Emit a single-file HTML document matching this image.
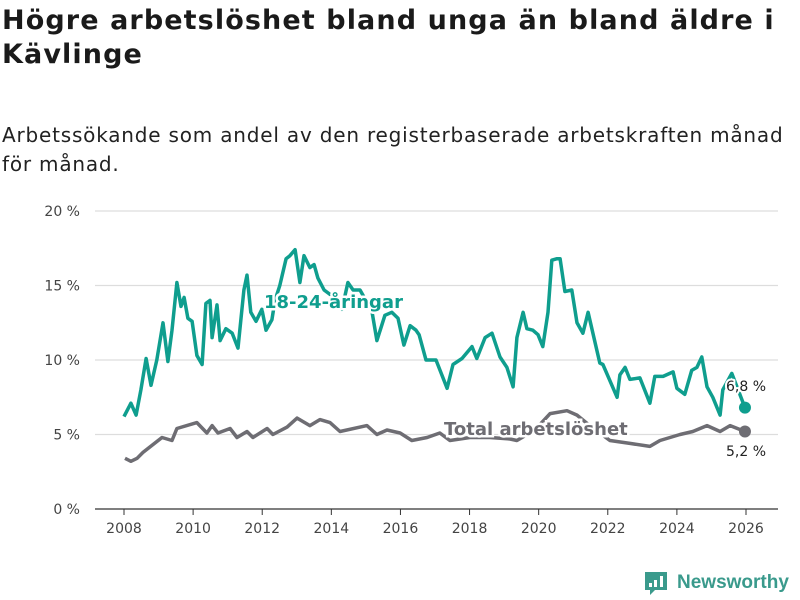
<!DOCTYPE html>
<html><head><meta charset="utf-8">
<style>
body{margin:0;background:#fff;font-family:"DejaVu Sans","Liberation Sans",sans-serif;}
#wrap{position:relative;width:800px;height:600px;overflow:hidden;}
h1{position:absolute;left:2px;top:4px;margin:0;font-size:27px;line-height:34px;font-weight:bold;color:#1a1a1a;width:796px;letter-spacing:1.1px;}
.sub{position:absolute;left:2px;top:121px;margin:0;font-size:20px;line-height:29px;color:#222;width:796px;letter-spacing:0.8px;}
</style></head><body>
<div id="wrap">
<h1>Högre arbetslöshet bland unga än bland äldre i Kävlinge</h1>
<p class="sub">Arbetssökande som andel av den registerbaserade arbetskraften månad för månad.</p>
<svg id="chart" width="800" height="600" style="position:absolute;left:0;top:0"></svg>
</div>
<script>
const yTicks=[0,5,10,15,20];
const xTicks=[2008,2010,2012,2014,2016,2018,2020,2022,2024,2026];
const youthDates=[2008.00,2008.20,2008.35,2008.49,2008.64,2008.78,2008.95,2009.13,2009.27,2009.39,2009.53,2009.65,2009.74,2009.85,2009.97,2010.11,2010.26,2010.37,2010.49,2010.55,2010.69,2010.78,2010.95,2011.13,2011.30,2011.47,2011.56,2011.67,2011.82,2011.99,2012.11,2012.28,2012.37,2012.51,2012.69,2012.80,2012.95,2013.09,2013.21,2013.38,2013.50,2013.61,2013.79,2013.96,2014.31,2014.48,2014.63,2014.83,2015.00,2015.18,2015.32,2015.55,2015.75,2015.93,2016.10,2016.28,2016.45,2016.54,2016.74,2017.03,2017.35,2017.52,2017.78,2018.07,2018.21,2018.45,2018.65,2018.88,2019.08,2019.26,2019.37,2019.55,2019.66,2019.83,2019.98,2020.12,2020.27,2020.38,2020.53,2020.62,2020.76,2020.96,2021.11,2021.28,2021.43,2021.57,2021.77,2021.86,2022.27,2022.35,2022.50,2022.64,2022.93,2023.22,2023.36,2023.60,2023.89,2024.00,2024.23,2024.43,2024.58,2024.72,2024.87,2025.04,2025.25,2025.33,2025.59,2025.97];
const youthValues=[6.2,7.1,6.3,8.0,10.1,8.3,10.0,12.5,9.9,12.0,15.2,13.6,14.2,12.8,12.6,10.3,9.7,13.8,14.0,11.5,13.7,11.3,12.1,11.8,10.8,14.7,15.7,13.2,12.6,13.4,12.0,12.7,14.0,15.0,16.8,17.0,17.4,15.2,17.0,16.2,16.4,15.5,14.7,14.4,13.4,15.2,14.7,14.7,14.0,13.2,11.3,13.0,13.2,12.8,11.0,12.3,12.0,11.7,10.0,10.0,8.1,9.7,10.1,10.9,10.1,11.5,11.8,10.2,9.5,8.2,11.5,13.2,12.1,12.0,11.7,10.9,13.2,16.7,16.8,16.8,14.6,14.7,12.5,11.8,13.2,11.8,9.8,9.7,7.5,9.0,9.5,8.7,8.8,7.1,8.9,8.9,9.2,8.1,7.7,9.3,9.5,10.2,8.2,7.5,6.3,8.0,9.1,6.8];
const totalDates=[2008.03,2008.20,2008.38,2008.55,2009.10,2009.39,2009.53,2010.11,2010.40,2010.55,2010.72,2011.07,2011.27,2011.56,2011.73,2012.14,2012.31,2012.72,2013.01,2013.38,2013.67,2013.96,2014.25,2015.03,2015.32,2015.61,2015.99,2016.33,2016.77,2017.14,2017.43,2018.01,2018.59,2019.17,2019.37,2019.89,2020.33,2020.82,2021.11,2021.48,2022.06,2022.64,2023.22,2023.51,2024.09,2024.46,2024.87,2025.25,2025.54,2025.97];
const totalValues=[3.4,3.2,3.4,3.8,4.8,4.6,5.4,5.8,5.1,5.6,5.1,5.4,4.8,5.2,4.8,5.4,5.0,5.5,6.1,5.6,6.0,5.8,5.2,5.6,5.0,5.3,5.1,4.6,4.8,5.1,4.6,4.8,4.8,4.7,4.6,5.3,6.4,6.6,6.3,5.6,4.6,4.4,4.2,4.6,5.0,5.2,5.6,5.2,5.6,5.2];

const svg=document.getElementById('chart');
const NS='http://www.w3.org/2000/svg';
const X=y=>124+(y-2008)*(746-124)/18;
const Y=v=>509-v*(509-211)/20;
function mk(tag,attrs,txt){const e=document.createElementNS(NS,tag);for(const k in attrs)e.setAttribute(k,attrs[k]);if(txt!==undefined)e.textContent=txt;svg.appendChild(e);return e;}
const font='"DejaVu Sans","Liberation Sans",sans-serif';
yTicks.forEach(t=>{
 const g=mk('line',{x1:95,x2:778,y1:Y(t),y2:Y(t),stroke:t===0?'#333':'#ddd','stroke-width':1.3});
 
 
 const l=mk('text',{x:80,y:Y(t)+5,'text-anchor':'end','font-size':14,fill:'#444','font-family':font},t+' %');
 
 
});
xTicks.forEach(t=>{
 const k=mk('line',{x1:X(t),x2:X(t),y1:509,y2:515,stroke:'#333','stroke-width':1});
 
 
 const l=mk('text',{x:X(t),y:533,'text-anchor':'middle','font-size':14,fill:'#444','font-family':font},t);
 
 
});
function path(d,v){return d.map((x,i)=>(i?'L':'M')+X(x).toFixed(1)+','+Y(v[i]).toFixed(1)).join('');}
const tl=mk('path',{d:path(totalDates,totalValues),fill:'none',stroke:'#6e6d73','stroke-width':3.5,'stroke-linejoin':'round'});


const yl=mk('path',{d:path(youthDates,youthValues),fill:'none',stroke:'#0f9e8e','stroke-width':3.5,'stroke-linejoin':'round'});


const td=mk('circle',{cx:X(totalDates[totalDates.length-1]),cy:Y(totalValues[totalValues.length-1]),r:6,fill:'#6e6d73'});


const yd=mk('circle',{cx:X(youthDates[youthDates.length-1]),cy:Y(youthValues[youthValues.length-1]),r:6,fill:'#0f9e8e'});


const l1=mk('text',{x:264,y:308,'font-size':18,'font-weight':'bold',fill:'#0f9e8e',stroke:'#fff','stroke-width':5,'paint-order':'stroke','font-family':font},'18-24-åringar');


const l2=mk('text',{x:444,y:435,'font-size':18,'font-weight':'bold',fill:'#6e6d73',stroke:'#fff','stroke-width':5,'paint-order':'stroke','font-family':font},'Total arbetslöshet');


const v1=mk('text',{x:746,y:391,'text-anchor':'middle','font-size':14,fill:'#222',stroke:'#fff','stroke-width':4,'paint-order':'stroke','font-family':font},'6,8 %');


const v2=mk('text',{x:746,y:456,'text-anchor':'middle','font-size':14,fill:'#222','font-family':font},'5,2 %');


const lg=mk('g',{});


const r=document.createElementNS(NS,'path');r.setAttribute('d','M645,572h22v18h-12l-5,5v-5h-5z');r.setAttribute('fill','#3a9a8c');lg.appendChild(r);
[[649,583,3,4],[654,580,3,7],[660,576,3,11]].forEach(b=>{const e=document.createElementNS(NS,'rect');e.setAttribute('x',b[0]);e.setAttribute('y',b[1]);e.setAttribute('width',b[2]);e.setAttribute('height',b[3]);e.setAttribute('fill','#fff');lg.appendChild(e);});
const lt=mk('text',{x:677,y:588,'font-size':19,'font-weight':'bold',fill:'#3a9a8c','font-family':'"Liberation Sans",sans-serif'},'Newsworthy');


</script>
</body></html>
